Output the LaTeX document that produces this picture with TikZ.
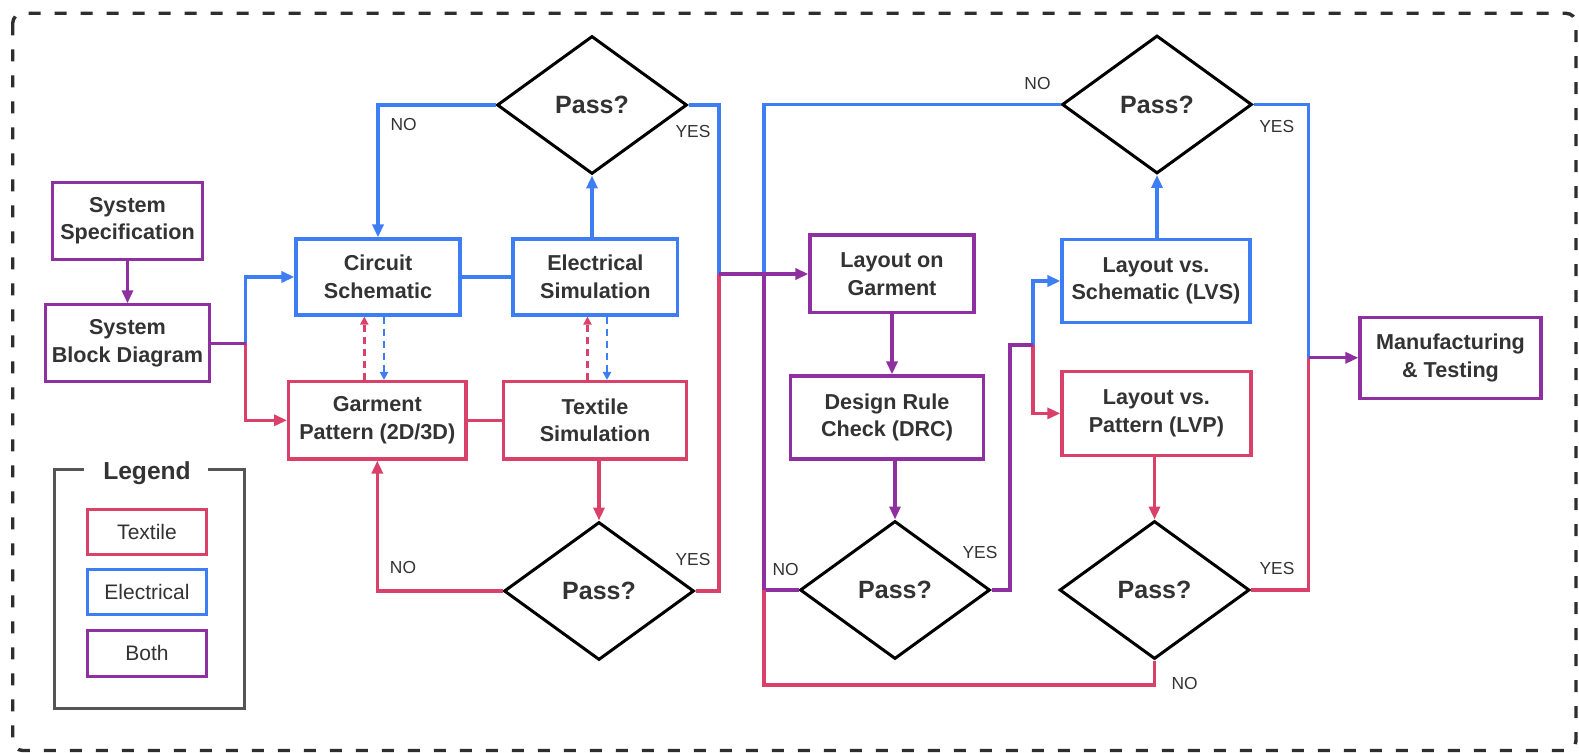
\documentclass[tikz,border=0pt]{standalone}
\usepackage{fontspec}
\setmainfont{Liberation Sans}
\usetikzlibrary{arrows.meta,shapes.geometric,calc}
\definecolor{eblue}{HTML}{3D7EF5}
\definecolor{tred}{HTML}{D9416B}
\definecolor{bpurp}{HTML}{8E30A0}
\definecolor{txt}{HTML}{333333}
\definecolor{frame}{HTML}{2E2E2E}
\definecolor{legframe}{HTML}{555555}
\tikzset{
  box/.style={draw, line width=1.6pt, fill=white, align=center, inner sep=0pt,
    font=\fontsize{10.8}{13.8}\selectfont\bfseries, text=txt},
  tbox/.style={box, draw=tred},
  ebox/.style={box, draw=eblue},
  bbox/.style={box, draw=bpurp},
  dec/.style={diamond, draw=black, line width=1.5pt, fill=white, inner sep=0pt,
    minimum width=95pt, minimum height=69pt,
    font=\fontsize{12.5}{15}\selectfont\bfseries, text=txt},
  lbl/.style={inner sep=0pt, font=\fontsize{8.7}{10}\selectfont, text=txt},
  legitem/.style={draw, line width=1.4pt, inner sep=0pt, minimum width=59.5pt,
    minimum height=22.8pt, font=\fontsize{10.5}{12}\selectfont, text=txt},
  wire/.style={line width=1.7pt},
  arr/.style={wire, -{Triangle[length=6.5pt,width=5.5pt]}},
  darr/.style={line width=1.2pt, dash pattern=on 3.5pt off 2.5pt,
    -{Triangle[length=4pt,width=4pt]}},
  border/.style={draw=frame, line width=1.7pt, dash pattern=on 6pt off 7pt,
    rounded corners=5pt},
}
\begin{document}
\begin{tikzpicture}[x=0.5pt,y=-0.5pt]
\useasboundingbox (0,0) rectangle (1579,753);
\fill[white] (0,0) rectangle (1579,753);

% outer dashed frame
\draw[border] (12.7,13.3) rectangle (1576,750.5);

% ---- boxes ----
\node[bbox, minimum width=74.8pt, minimum height=38.5pt] (spec) at (127.5,220.8) {System\\Specification};
\node[bbox, minimum width=81.8pt, minimum height=38.4pt] (block) at (127.5,343.3) {System\\Block Diagram};
\node[ebox, minimum width=82pt, minimum height=38pt] (circ) at (378,277) {Circuit\\Schematic};
\node[ebox, minimum width=82.3pt, minimum height=38pt] (elec) at (595.3,277) {Electrical\\Simulation};
\node[tbox, minimum width=88.7pt, minimum height=38.7pt] (garm) at (377.3,420.3) {Garment\\Pattern (2D/3D)};
\node[tbox, minimum width=91.4pt, minimum height=38.7pt] (text) at (595,420.3) {Textile\\Simulation};
\node[bbox, minimum width=82pt, minimum height=38.9pt] (layout) at (892,274) {Layout on\\Garment};
\node[bbox, minimum width=96.5pt, minimum height=41.5pt] (drc) at (887,417.5) {Design Rule\\Check (DRC)};
\node[ebox, minimum width=94pt, minimum height=41.7pt] (lvs) at (1156,281) {Layout vs.\\Schematic (LVS)};
\node[tbox, minimum width=94.5pt, minimum height=41.7pt] (lvp) at (1156.4,413.4) {Layout vs.\\Pattern (LVP)};
\node[bbox, minimum width=90.5pt, minimum height=40.5pt] (manu) at (1450.5,357.8) {Manufacturing\\\& Testing};

% ---- decisions ----
\node[dec] (pass1) at (592,105) {Pass?};
\node[dec] (pass2) at (599,591) {Pass?};
\node[dec] (dpass) at (895,590) {Pass?};
\node[dec] (pass3) at (1157,104.5) {Pass?};
\node[dec] (lpass) at (1154.5,590) {Pass?};

% ---- junction points ----
\coordinate (j1) at (245.7,343.3);
\coordinate (j2) at (719,274);
\coordinate (j3) at (764,274);
\coordinate (j5) at (764,685);
\coordinate (j4) at (764,590);
\coordinate (k1) at (1010,345);
\coordinate (j6) at (1033,345);
\coordinate (j7) at (1308.5,357.8);

% ---- system level ----
\draw[arr,bpurp] (spec.south) -- (block.north);
\draw[arr,eblue] (j1) |- (circ.west);
\draw[arr,tred] (j1) |- (garm.west);
\draw[wire,bpurp] (block.east) -- (j1);

% ---- electrical loop ----
\draw[wire,eblue] (circ.east) -- (elec.west);
\draw[arr,eblue] (elec.north -| pass1.south) -- (pass1.south);
\draw[arr,eblue] (pass1.west) -| (circ.north);
\draw[wire,eblue] (pass1.east) -| (j2);

% ---- textile loop ----
\draw[wire,tred] (garm.east) -- (text.west);
\draw[arr,tred] (text.south -| pass2.north) -- (pass2.north);
\draw[arr,tred] (pass2.west) -| (garm.south);
\draw[wire,tred] (pass2.east) -| (j2);

% ---- co-simulation links ----
\coordinate (dc1) at ($(circ.south)+(-13.7,0)$);
\coordinate (dc2) at ($(circ.south)+(6,0)$);
\coordinate (dc3) at ($(elec.south)+(-7.8,0)$);
\coordinate (dc4) at ($(elec.south)+(11.7,0)$);
\draw[darr,tred] (dc1 |- garm.north) -- (dc1);
\draw[darr,eblue] (dc2) -- (dc2 |- garm.north);
\draw[darr,tred] (dc3 |- text.north) -- (dc3);
\draw[darr,eblue] (dc4) -- (dc4 |- text.north);

% ---- layout and checks ----
\draw[wire,eblue] (pass3.west) -| (j3);
\draw[wire,bpurp] (dpass.west) -| (j3);
\draw[wire,tred] (lpass.south) |- (j5) -- (j4);
\draw[arr,bpurp] (j2) -- (layout.west);
\draw[arr,bpurp] (layout.south) -- (layout.south |- drc.north);
\draw[arr,bpurp] (dpass.north |- drc.south) -- (dpass.north);
\draw[arr,eblue] (j6) |- (lvs.west);
\draw[arr,tred] (j6) |- (lvp.west);
\draw[wire,bpurp] (dpass.east) -| (k1) -- (j6);
\draw[arr,eblue] (lvs.north -| pass3.south) -- (pass3.south);
\draw[arr,tred] (lvp.south -| lpass.north) -- (lpass.north);
\draw[wire,eblue] (pass3.east) -| (j7);
\draw[wire,tred] (lpass.east) -| (j7);
\draw[arr,bpurp] (j7) -- (manu.west);

% ---- branch labels ----
\node[lbl] (no1) at (403.6,125) {NO};
\node[lbl] (yes1) at (693,131.7) {YES};
\node[lbl] (no2) at (403,568) {NO};
\node[lbl] (yes2) at (693,560) {YES};
\node[lbl] (no3) at (785.7,570) {NO};
\node[lbl] (yes3) at (980,553) {YES};
\node[lbl] (no4) at (1037.5,83.3) {NO};
\node[lbl] (yes4) at (1276.7,126.7) {YES};
\node[lbl] (yes5) at (1277,568.3) {YES};
\node[lbl] (no5) at (1184.7,683.3) {NO};

% ---- legend ----
\draw[legframe, line width=1.2pt] (84,469.3) -- (54.3,469.3) -- (54.3,708.3)
  -- (244.6,708.3) -- (244.6,469.3) -- (208,469.3);
\node[anchor=base, inner sep=0pt, font=\fontsize{12.3}{14}\selectfont\bfseries, text=txt]
  (legtitle) at (147,479.3) {Legend};
\node[legitem, draw=tred] (legt) at (147,532) {Textile};
\node[legitem, draw=eblue] (lege) at (147,592) {Electrical};
\node[legitem, draw=bpurp] (legb) at (147,653.3) {Both};
\end{tikzpicture}
\end{document}
